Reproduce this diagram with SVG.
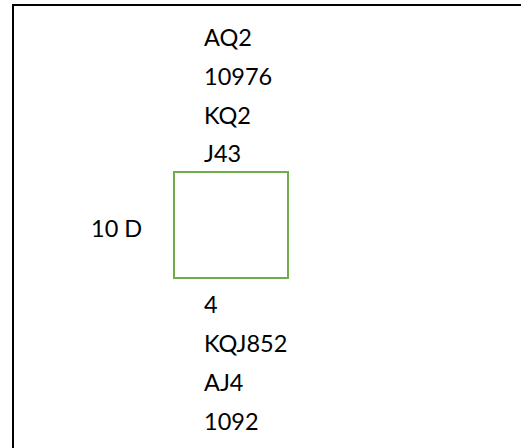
<svg xmlns="http://www.w3.org/2000/svg" width="521" height="448" viewBox="0 0 521 448">
<style>
  .t { font-family: Lato, "Open Sans", "Liberation Sans", sans-serif; font-size: 23.5px; fill: #000; }
  .frame { fill: none; stroke: #000; stroke-width: 2; }
  .box { fill: #fff; stroke: #70AD47; stroke-width: 2; }
</style>
<rect width="521" height="448" fill="#fff"/>
<g id="frame">
  <rect class="frame" x="13" y="5" width="600" height="500"/>
</g>
<g id="north">
  <text class="t" x="204" y="46">AQ2</text>
  <text class="t" x="204" y="85">10976</text>
  <text class="t" x="204" y="124">KQ2</text>
  <text class="t" x="204" y="162">J43</text>
</g>
<g id="west">
  <text class="t" x="91" y="237">10 D</text>
</g>
<g id="table">
  <rect class="box" x="174" y="172" width="114" height="106"/>
</g>
<g id="south">
  <text class="t" x="204" y="313">4</text>
  <text class="t" x="204" y="352">KQJ852</text>
  <text class="t" x="204" y="391">AJ4</text>
  <text class="t" x="204" y="430">1092</text>
</g>
<g id="connectors"></g>
</svg>
